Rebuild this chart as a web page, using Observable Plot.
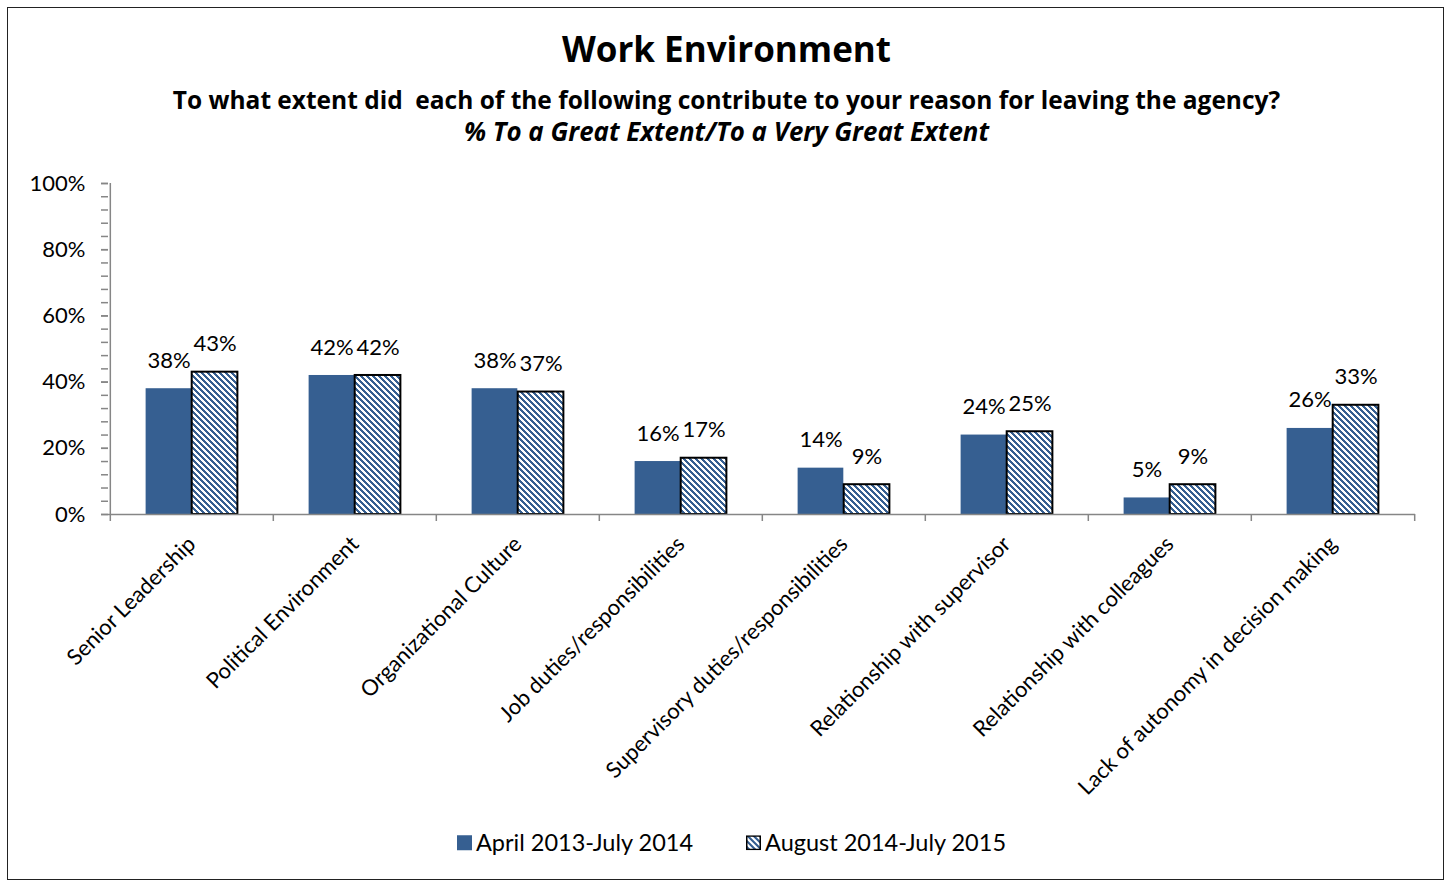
<!DOCTYPE html>
<html>
<head>
<meta charset="utf-8">
<script src="https://cdn.jsdelivr.net/npm/d3@7"></script>
<script src="https://cdn.jsdelivr.net/npm/@observablehq/plot@0.6"></script>
<style>
  html, body { margin: 0; padding: 0; background: #fff; }
  body { width: 1453px; height: 888px; position: relative; overflow: hidden; font-family: Lato, "Open Sans", sans-serif; color: #000; }
  #frame { position: absolute; left: 7px; top: 7px; width: 1437px; height: 873px; border: 1.5px solid #222; box-sizing: border-box; }
  .t { position: absolute; left: 0; width: 1453px; text-align: center; line-height: 1; transform: translateY(-50%); }
  .t span { display: inline-block; white-space: pre; line-height: 1; font-family: "Open Sans", Lato, sans-serif; font-weight: bold; }
  #title { top: 48px; }
  #title span { font-size: 33px; }
  #sub { top: 100px; }
  #sub span { font-size: 22px; }
  #sub2 { top: 132px; }
  #sub2 span { font-size: 22px; font-style: italic; }
  #chart { position: absolute; left: 0; top: 160px; }
  #legend { position: absolute; left: 0; top: 843px; width: 1453px; display: flex; justify-content: center; gap: 53px; font-size: 23.5px; line-height: 1; transform: translateY(-50%); padding-left: 10px; box-sizing: border-box; }
  .item { display: flex; align-items: center; gap: 4px; }
  .sw { width: 15px; height: 15px; display: inline-block; }
</style>
</head>
<body>
<div id="frame"></div>
<div class="t" id="title"><span data-w="329">Work Environment</span></div>
<div class="t" id="sub"><span data-w="1107">To what extent did  each of the following contribute to your reason for leaving the agency?</span></div>
<div class="t" id="sub2"><span data-w="525">% To a Great Extent/To a Very Great Extent</span></div>
<div id="chart"></div>
<div id="legend"></div>
<script>
const categories = [
  "Senior Leadership",
  "Political Environment",
  "Organizational Culture",
  "Job duties/responsibilities",
  "Supervisory duties/responsibilities",
  "Relationship with supervisor",
  "Relationship with colleagues",
  "Lack of autonomy in decision making"
];
const seriesNames = ["April 2013-July 2014", "August 2014-July 2015"];
const values2013_2014 = [38, 42, 38, 16, 14, 24, 5, 26];
const values2014_2015 = [43, 42, 37, 17, 9, 25, 9, 33];
const yTicks = [0, 20, 40, 60, 80, 100];
const yMinorTicks = d3.range(0, 101, 4);

// fit heading widths to the reference
document.querySelectorAll(".t span").forEach(el => {
  const target = +el.dataset.w;
  for (let k = 0; k < 3; k++) {
    const w = el.getBoundingClientRect().width;
    const fs = parseFloat(getComputedStyle(el).fontSize);
    el.style.fontSize = (fs * target / w) + "px";
  }
});

const blue = "#365F91";
const data = [];
categories.forEach((c, i) => {
  data.push({cat: c, series: seriesNames[0], v: values2013_2014[i]});
  data.push({cat: c, series: seriesNames[1], v: values2014_2015[i]});
});

const W = 1453, H = 650, ML = 108, MR = 38, MT = 23, MB = 296;
const bw = (W - ML - MR) / categories.length;
const barW = bw * 0.282;
const outer = (bw - 2 * barW) / 2;
const gray = "#868686";

const chart = Plot.plot({
  width: W, height: H,
  marginLeft: ML, marginRight: MR, marginTop: MT, marginBottom: MB,
  style: {fontFamily: "Lato, 'Open Sans', sans-serif", fontSize: "22px", color: "#000", background: "transparent"},
  x: {domain: categories, padding: 0, axis: null},
  y: {domain: [0, 100], axis: null},
  marks: [
    Plot.barY(data.filter(d => d.series === seriesNames[0]), {
      x: "cat", y: "v", fill: blue, insetLeft: outer, insetRight: bw - outer - barW
    }),
    Plot.barY(data.filter(d => d.series === seriesNames[1]), {
      x: "cat", y: "v", fill: "url(#hatch)", stroke: "#000", strokeWidth: 2,
      insetLeft: bw - outer - barW, insetRight: outer
    }),
    Plot.text(data.filter(d => d.series === seriesNames[0]), {
      x: "cat", y: "v", text: d => d.v + "%", dx: outer + barW / 2 - bw / 2, dy: -28, fontSize: 22
    }),
    Plot.text(data.filter(d => d.series === seriesNames[1]), {
      x: "cat", y: "v", text: d => d.v + "%", dx: bw / 2 - outer - barW / 2, dy: -28, fontSize: 22
    }),
    Plot.ruleY([0], {stroke: gray, strokeWidth: 1.5}),
    Plot.ruleX([categories[0]], {dx: -bw / 2, y1: 0, y2: 100, stroke: gray, strokeWidth: 1.5}),
    Plot.ruleX(categories, {dx: -bw / 2, y1: 0, y2: 0, insetBottom: -7, stroke: gray, strokeWidth: 1.5}),
    Plot.ruleX([categories[categories.length - 1]], {dx: bw / 2, y1: 0, y2: 0, insetBottom: -7, stroke: gray, strokeWidth: 1.5}),
    Plot.axisY({ticks: yMinorTicks, tickFormat: () => "", tickSize: 7, stroke: gray, strokeWidth: 1.5, label: null}),
    Plot.axisY({ticks: yTicks, tickFormat: d => d + "%", tickSize: 7, tickPadding: 16, stroke: gray, strokeWidth: 1.5, fontSize: 22, label: null}),
    Plot.axisX({tickSize: 0, tickRotate: -45, tickPadding: 26, dx: 0, fontSize: 22, label: null})
  ]
});

const svg = d3.select(chart);
// pixel-aligned diagonal hatch: blue and white stripes running top-left to bottom-right
function addHatch(defsSel, id) {
  const P = 6, B = 3;
  const p = defsSel.append("pattern")
    .attr("id", id).attr("patternUnits", "userSpaceOnUse")
    .attr("width", P).attr("height", P);
  p.append("rect").attr("width", P).attr("height", P).attr("fill", "#fff");
  for (let r = 0; r < P; r++) {
    [r, r - P].forEach(x0 => {
      p.append("rect").attr("x", x0).attr("y", r).attr("width", B).attr("height", 1)
        .attr("fill", blue).attr("shape-rendering", "crispEdges");
    });
  }
}
addHatch(svg.insert("defs", ":first-child"), "hatch");

document.getElementById("chart").appendChild(chart);

// legend
const legend = d3.select("#legend");
const it1 = legend.append("div").attr("class", "item");
it1.append("span").attr("class", "sw").style("background", blue);
it1.append("span").text(seriesNames[0]);
const it2 = legend.append("div").attr("class", "item");
const sw2 = it2.append("svg").attr("width", 15).attr("height", 15).style("display", "block");
addHatch(sw2.append("defs"), "hatch2");
sw2.append("rect").attr("x", 0.75).attr("y", 0.75).attr("width", 13.5).attr("height", 13.5)
  .attr("fill", "url(#hatch2)").attr("stroke", "#000").attr("stroke-width", 1.5);
it2.append("span").text(seriesNames[1]);
</script>
</body>
</html>
